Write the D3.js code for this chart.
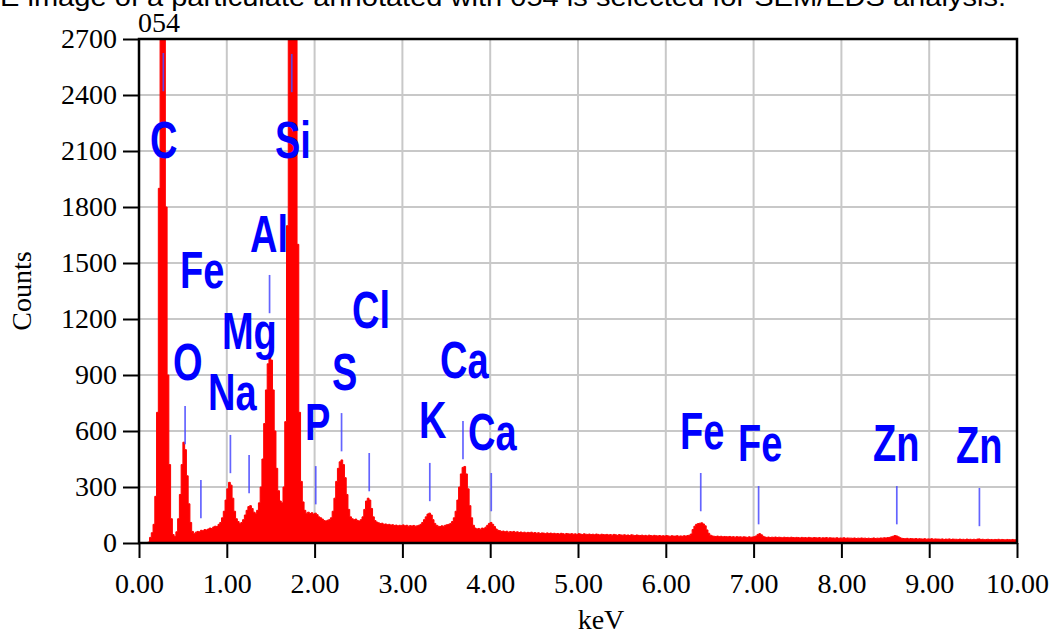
<!DOCTYPE html>
<html><head><meta charset="utf-8">
<script src="https://cdn.jsdelivr.net/npm/d3@7"></script>
<style>body{margin:0;background:#fff} svg{display:block}</style>
</head><body><svg id="c" width="1052" height="635"></svg>
<script>
// ---- data ----
const channelWidth = 0.02; // keV per channel, channel i starts at i*channelWidth
const counts = [
0,0,0,0,0,5,30,55,100,250,
700,1900,3200,4500,3300,1800,900,420,130,45,
35,60,130,260,420,540,500,360,210,110,
62,50,58,62,60,68,66,72,70,75,
80,78,86,90,88,100,110,135,170,230,
290,325,310,240,170,130,115,105,110,125,
150,175,195,200,185,165,160,175,215,300,
450,640,820,960,1010,980,820,600,400,280,
225,215,300,650,1700,3000,4200,4500,4000,2900,
1600,700,330,220,175,160,165,158,162,155,
160,152,140,135,128,120,118,122,125,135,
170,240,330,400,435,445,420,350,260,180,
140,130,125,128,120,118,125,140,180,225,
240,230,185,140,120,112,108,104,106,100,
102,98,100,96,98,94,96,92,95,93,
97,92,95,90,93,91,94,90,92,95,
100,110,125,140,155,160,150,125,105,95,
90,88,92,90,95,98,100,105,115,135,
170,230,300,370,405,410,370,290,200,135,
95,80,75,78,74,80,78,85,95,105,
110,100,88,75,68,66,62,64,60,63,
58,61,59,62,57,60,56,59,55,58,
54,57,55,58,53,56,52,55,51,54,
53,50,54,51,53,50,52,49,51,48,
52,50,47,51,49,48,50,47,49,46,
50,48,45,49,47,46,48,45,47,44,
48,46,43,47,45,44,46,43,45,42,
46,44,41,45,43,42,44,41,43,40,
44,42,40,43,41,40,42,39,41,38,
42,40,38,41,39,38,40,37,39,37,
40,38,36,39,37,37,39,36,38,36,
39,37,40,42,48,72,90,100,104,106,
108,102,92,70,52,42,38,36,35,37,
34,36,33,35,34,33,35,32,34,31,
34,32,33,31,33,32,30,33,31,32,
34,38,46,50,44,36,32,30,32,29,
31,30,32,29,31,30,28,31,29,30,
28,31,29,28,30,29,27,30,28,29,
27,30,28,27,29,28,27,29,26,28,
27,29,26,28,27,27,26,28,25,27,
26,28,25,27,26,26,25,27,24,26,
25,27,25,26,24,26,24,25,27,24,
26,25,27,26,28,27,29,30,33,36,
40,38,33,28,25,24,23,25,22,24,
23,22,24,21,23,22,21,23,20,22,
21,23,20,22,21,21,20,22,19,21,
20,22,19,21,20,20,19,21,19,20,
18,21,19,20,18,20,18,21,22,19,
20,18,19,20,18,19,17,19,18,20,
17,19,18,17,19,18,17,19,17,18
];
const xTicks = [0,1,2,3,4,5,6,7,8,9,10];
const yTicks = [0,300,600,900,1200,1500,1800,2100,2400,2700];
// element line markers: energy (keV) and top of marker (counts)
const markerEnergy = [0.277,1.740,1.487,0.525,0.705,1.041,1.254,2.013,2.307,2.622,3.312,3.690,4.012,6.398,7.057,8.631,9.572];
const markerTop    = [2625,2620,1436,734,337,579,471,412,696,482,429,654,375,375,305,305,295];
const markerSpan = 205; // counts
// element labels: text, left edge energy (keV), baseline level (counts)
const labelText   = ["C","Si","Al","Fe","Mg","O","Na","P","S","Cl","K","Ca","Ca","Fe","Fe","Zn","Zn"];
const labelEnergy = [0.125,1.549,1.264,0.467,0.945,0.387,0.786,1.891,2.198,2.426,3.189,3.428,3.747,6.162,6.822,8.360,9.305];
const labelCount  = [2062,2062,1559,1366,1039,873,712,552,820,1152,562,884,498,504,439,439,429];
const titleText = "E image of a particulate annotated with 054 is selected for SEM/EDS analysis.";
const spectrumName = "054";
const xTitle = "keV", yTitle = "Counts";

// ---- layout ----
const L = 139, R = 1017, T = 39, B = 543;
const svg = d3.select("#c");
const x = d3.scaleLinear().domain([0,10]).range([L,R]);
const y = d3.scaleLinear().domain([0,2700]).range([B,T]);
const serif = "'Liberation Serif','Times New Roman',serif";
const sans = "'Liberation Sans',Arial,sans-serif";

// title (cut off at top, as in the source image)
svg.append("text").attr("x",0).attr("y",6).attr("font-family",sans).attr("font-size",26)
  .attr("textLength",1006).attr("lengthAdjust","spacingAndGlyphs").attr("fill","#000").text(titleText);

// grid
const g = svg.append("g");
g.selectAll("line.vx").data(xTicks.slice(1,-1)).join("line")
  .attr("x1",d=>x(d)).attr("x2",d=>x(d)).attr("y1",T).attr("y2",B)
  .attr("stroke","#c8c8c8").attr("stroke-width",2);
g.selectAll("line.hy").data(yTicks.slice(1,-1)).join("line")
  .attr("x1",L).attr("x2",R).attr("y1",d=>y(d)).attr("y2",d=>y(d))
  .attr("stroke","#c8c8c8").attr("stroke-width",2);

// clip
svg.append("defs").append("clipPath").attr("id","plot").append("rect")
  .attr("x",L).attr("y",T).attr("width",R-L).attr("height",B-T);

// spectrum
const spec = counts.map((c,i)=>({e:i*channelWidth,c}));
spec.push({e:10,c:counts[counts.length-1]});
const area = d3.area().x(d=>x(d.e)).y0(y(0)).y1(d=>y(d.c)).curve(d3.curveStepAfter);
svg.append("path").datum(spec).attr("clip-path","url(#plot)").attr("d",area)
  .attr("fill","#ff0000").attr("stroke","#ff0000").attr("stroke-width",1);

// markers
svg.append("g").attr("clip-path","url(#plot)").selectAll("line").data(markerEnergy).join("line")
  .attr("x1",d=>x(d)).attr("x2",d=>x(d))
  .attr("y1",(d,i)=>y(markerTop[i])).attr("y2",(d,i)=>y(markerTop[i]-markerSpan))
  .attr("stroke","#4a4aff").attr("stroke-width",1.7).attr("opacity",0.85);

// labels
svg.append("g").selectAll("text").data(labelText).join("text")
  .attr("transform",(d,i)=>`translate(${x(labelEnergy[i])},${y(labelCount[i])}) scale(1,1.37)`)
  .attr("font-family",sans).attr("font-weight","bold").attr("font-size",38)
  .attr("fill","#0000ff").text(d=>d);

// border
svg.append("rect").attr("x",L).attr("y",T).attr("width",R-L).attr("height",B-T)
  .attr("fill","none").attr("stroke","#000").attr("stroke-width",2.5);

// axes
const xa = svg.append("g").attr("transform",`translate(0,${B})`)
  .call(d3.axisBottom(x).tickValues(xTicks).tickFormat(d3.format(".2f")).tickSize(15).tickPadding(15));
const ya = svg.append("g").attr("transform",`translate(${L},0)`)
  .call(d3.axisLeft(y).tickValues(yTicks).tickFormat(d3.format("d")).tickSize(16).tickPadding(6));
[xa,ya].forEach(a=>{
  a.select(".domain").remove();
  a.selectAll(".tick line").attr("stroke","#000").attr("stroke-width",2);
  a.selectAll(".tick text").attr("font-family",serif).attr("font-size",28).attr("fill","#000");
});

// axis titles
svg.append("text").attr("x",601).attr("y",629).attr("text-anchor","middle")
  .attr("font-family",serif).attr("font-size",28).text(xTitle);
svg.append("text").attr("transform",`translate(31,${(T+B)/2}) rotate(-90)`).attr("text-anchor","middle")
  .attr("font-family",serif).attr("font-size",28).text(yTitle);
svg.append("text").attr("x",138).attr("y",32).attr("font-family",serif).attr("font-size",28).text(spectrumName);
</script></body></html>
